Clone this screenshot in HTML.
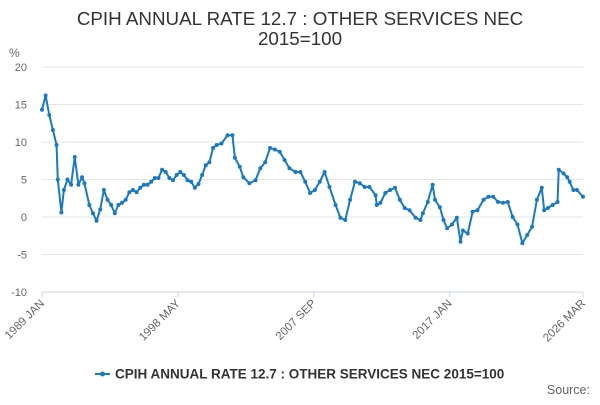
<!DOCTYPE html>
<html><head><meta charset="utf-8"><style>
body{margin:0;background:#fff;width:600px;height:400px;overflow:hidden;font-family:"Liberation Sans",sans-serif}
</style></head><body>
<svg width="600" height="400" id="svg" font-family="Liberation Sans, sans-serif">
<text x="300" y="25" text-anchor="middle" font-size="18.8" fill="#333">CPIH ANNUAL RATE 12.7 : OTHER SERVICES NEC</text>
<text x="300" y="45" text-anchor="middle" font-size="18.8" fill="#333">2015=100</text>
<text x="9" y="57" font-size="12" fill="#666">%</text>
<g id="grid"></g><g id="xaxis"></g><g id="series"></g>
<g>
<line x1="95" y1="374" x2="110" y2="374" stroke="#1a7abf" stroke-width="2"/>
<circle cx="102.5" cy="374" r="2.5" fill="#1a7abf"/>
<text x="115" y="378.5" font-size="13.5" font-weight="bold" fill="#333">CPIH ANNUAL RATE 12.7 : OTHER SERVICES NEC 2015=100</text>
</g>
<text x="590" y="394" text-anchor="end" font-size="12.5" fill="#666">Source:</text>
</svg>
<script>
const yTicks=[20,15,10,5,0,-5,-10];
const xTickMonths=[0,112,224,336,446];
const xTickLabels=["1989 JAN","1998 MAY","2007 SEP","2017 JAN","2026 MAR"];
const months=[0,3,6,9,12,13,16,18,21,24,27,30,33,35,39,42,45,48,51,54,57,60,63,66,69,72,75,78,81,84,87,90,93,96,99,102,105,108,111,114,117,120,123,126,129,132,135,138,141,144,148,153,157,159,163,166,171,176,180,184,188,192,196,200,204,209,213,217,221,225,229,233,237,242,246,250,254,258,262,266,270,275,276,279,283,287,291,295,299,303,308,312,314,318,322,324,328,331,334,338,342,345,347,351,355,359,364,368,372,376,380,384,388,392,396,400,404,408,412,414,417,421,425,426,430,433,435,438,441,446];
const values=[14.3,16.2,13.6,11.6,9.6,5,0.6,3.6,5,4.3,8,4.3,5.3,4.5,1.6,0.5,-0.5,1,3.6,2.3,1.6,0.5,1.6,1.9,2.3,3.3,3.6,3.3,3.9,4.3,4.3,4.7,5.2,5.2,6.3,6,5.2,4.9,5.6,6,5.6,4.9,4.7,3.9,4.4,5.6,6.9,7.3,9.2,9.6,9.8,10.9,10.9,7.9,6.7,5.3,4.5,4.9,6.5,7.3,9.2,9,8.7,7.6,6.5,6,6,4.7,3.2,3.6,4.7,6,4,1.6,-0.1,-0.4,2.3,4.7,4.5,4,4,2.9,1.6,1.9,3.2,3.6,3.9,2.3,1.2,0.9,-0.1,-0.4,0.5,2,4.3,2.3,1.3,-0.4,-1.5,-1,-0.1,-3.3,-1.8,-2.2,0.7,0.9,2.3,2.7,2.7,2,1.9,2,0,-1,-3.5,-2.4,-1.3,2.3,3.9,0.9,1.2,1.6,2,6.3,5.8,5.3,4.7,3.6,3.6,2.7];
const NS="http://www.w3.org/2000/svg";
const X=m=>42+m*(541/446), Y=v=>217-v*7.5;
function mk(t,a,p){const e=document.createElementNS(NS,t);for(const k in a)e.setAttribute(k,a[k]);p.appendChild(e);return e;}
const grid=document.getElementById('grid');
yTicks.forEach(v=>{
 const l=mk('line',{x1:42,x2:583,y1:Y(v),y2:Y(v),stroke:v===-10?'#ccd6eb':'#e6e6e6','stroke-width':1},grid);
 
 
 const t=mk('text',{x:27,y:Y(v)+4,'text-anchor':'end','font-size':11,fill:'#666'},grid);
 t.textContent=v;
 
 
});
const xa=document.getElementById('xaxis');
xTickMonths.forEach((m,i)=>{
 const x=X(m);
 const tk=mk('line',{x1:x,x2:x,y1:292,y2:297,stroke:'#ccd6eb'},xa);
 
 
 const t=mk('text',{x:x+3,y:304,'text-anchor':'end','font-size':11.5,fill:'#666',transform:`rotate(-45 ${x+3} 304)`},xa);
 t.textContent=xTickLabels[i];
 
 
});
const s=document.getElementById('series');
const pl=mk('polyline',{points:months.map((m,i)=>X(m)+','+Y(values[i])).join(' '),fill:'none',stroke:'#1a7abf','stroke-width':2,'stroke-linejoin':'round'},s);


months.forEach((m,i)=>{
 const c=mk('circle',{cx:X(m),cy:Y(values[i]),r:2,fill:'#1a7abf'},s);
 
 
});
</script>
</body></html>
